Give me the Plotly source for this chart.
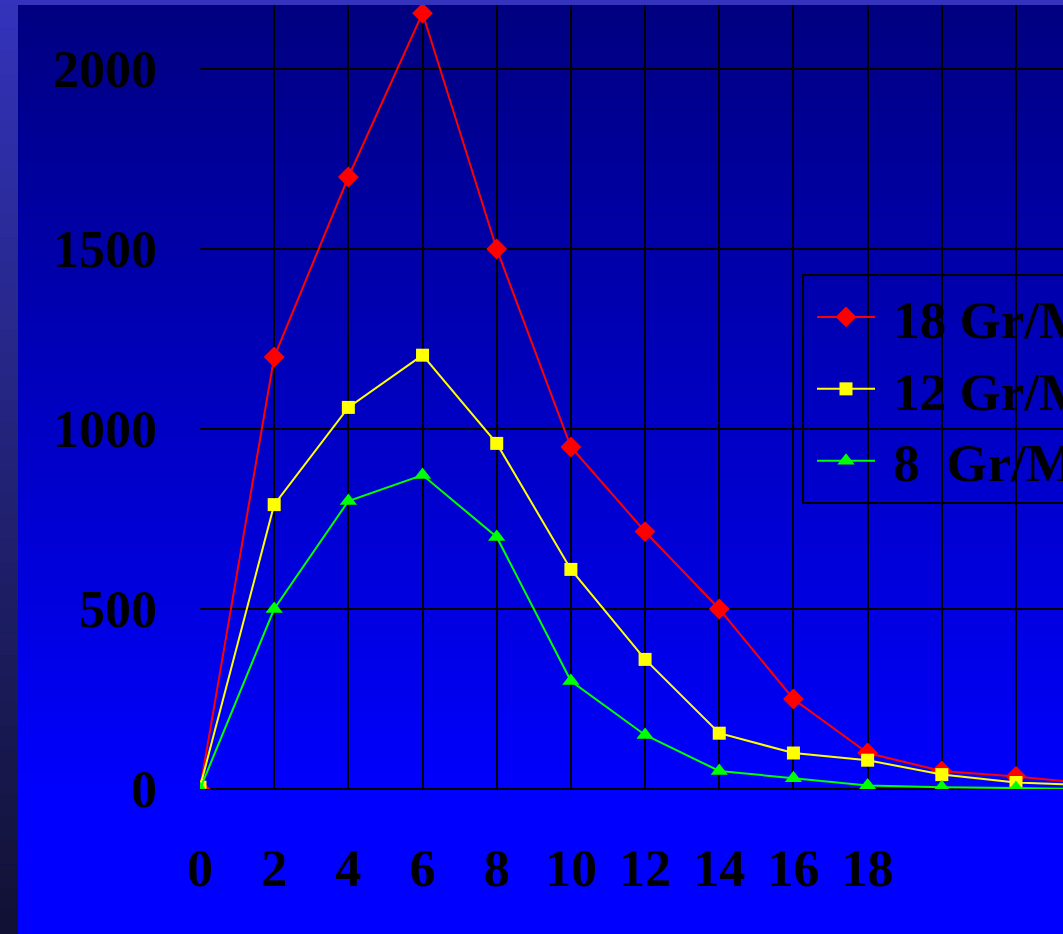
import plotly.graph_objects as go

# ---- data ----
hours = [0, 2, 4, 6, 8, 10, 12, 14, 16, 18, 20, 22, 24]
s18 = [0, 1200, 1700, 2155, 1500, 950, 715, 500, 250, 100, 50, 35, 15]
s12 = [5, 790, 1060, 1205, 960, 610, 360, 155, 100, 80, 40, 18, 10]
s8 = [0, 500, 800, 872, 700, 300, 150, 50, 30, 10, 5, 3, 0]
names = [" 18 Gr/M²", " 12 Gr/M²", " 8  Gr/M²"]
x_tickvals = [0, 2, 4, 6, 8, 10, 12, 14, 16, 18, 20, 22]
x_ticktext = ["0", "2", "4", "6", "8", "10", "12", "14", "16", "18", "", ""]
y_tickvals = [0, 500, 1000, 1500, 2000]

W, H = 1063, 934
L, R, T, B = 200, 0, 5, 145
pw, ph = W - L - R, H - T - B

def px2paper_x(px):
    return (px - L) / pw

def py2paper_y(py):
    return (H - B - py) / ph

shapes = []
# main gradient background (navy top -> bright blue bottom)
n = 90
g_top, g_bot = 5, 800
for i in range(n):
    y0 = g_top + (g_bot - g_top) * i / n
    y1 = g_top + (g_bot - g_top) * (i + 1) / n + 0.6
    b = int(round(128 + 127 * (i + 0.5) / n))
    shapes.append(dict(type="rect", xref="paper", yref="paper", layer="below",
                       x0=px2paper_x(18), x1=px2paper_x(W), y0=py2paper_y(y1), y1=py2paper_y(y0),
                       line=dict(width=0), fillcolor=f"rgb(0,0,{b})"))
shapes.append(dict(type="rect", xref="paper", yref="paper", layer="below",
                   x0=px2paper_x(18), x1=px2paper_x(W), y0=py2paper_y(H), y1=py2paper_y(g_bot),
                   line=dict(width=0), fillcolor="rgb(0,0,255)"))
# left strip gradient
m = 40
for i in range(m):
    y0 = 5 + (H - 5) * i / m
    y1 = 5 + (H - 5) * (i + 1) / m + 0.6
    f = (i + 0.5) / m
    r = int(round(51 + (17 - 51) * f))
    bb = int(round(187 + (51 - 187) * f))
    shapes.append(dict(type="rect", xref="paper", yref="paper", layer="below",
                       x0=px2paper_x(0), x1=px2paper_x(18), y0=py2paper_y(y1), y1=py2paper_y(y0),
                       line=dict(width=0), fillcolor=f"rgb({r},{r},{bb})"))
# top strip
shapes.append(dict(type="rect", xref="paper", yref="paper", layer="below",
                   x0=px2paper_x(0), x1=px2paper_x(W), y0=py2paper_y(5), y1=py2paper_y(0),
                   line=dict(width=0), fillcolor="rgb(51,51,187)"))

fig = go.Figure()
fig.add_trace(go.Scatter(x=hours, y=s18, name=names[0], mode="lines+markers",
                         line=dict(color="#ff0000", width=2),
                         marker=dict(symbol="diamond", size=16, color="#ff0000", line=dict(width=0))))
fig.add_trace(go.Scatter(x=hours, y=s12, name=names[1], mode="lines+markers",
                         line=dict(color="#ffff00", width=2),
                         marker=dict(symbol="square", size=13, color="#ffff00", line=dict(width=0))))
fig.add_trace(go.Scatter(x=hours, y=s8, name=names[2], mode="lines+markers",
                         line=dict(color="#00ff00", width=2),
                         marker=dict(symbol="triangle-up", size=15, color="#00ff00", line=dict(width=0))))

tick_font = dict(family="Liberation Serif, Times New Roman, serif", size=52, color="black", weight="bold")
legend_font = dict(tick_font, size=53)

fig.update_layout(
    width=W, height=H,
    margin=dict(l=L, r=R, t=T, b=B, pad=0, autoexpand=False),
    paper_bgcolor="rgb(0,0,255)",
    plot_bgcolor="rgba(0,0,0,0)",
    shapes=shapes,
    showlegend=True,
    legend=dict(x=px2paper_x(802), y=py2paper_y(274), xanchor="left", yanchor="top",
                bgcolor="rgba(0,0,0,0)", bordercolor="black", borderwidth=2,
                font=legend_font, itemwidth=58, indentation=8, tracegroupgap=0),
    xaxis=dict(range=[0, (W - L) / 37.09], tickvals=x_tickvals, ticktext=x_ticktext,
               showgrid=True, gridcolor="black", gridwidth=2, zeroline=False,
               showline=False, ticks="", tickfont=tick_font, ticklabelstandoff=44),
    yaxis=dict(range=[0, (H - B - T) / 0.36], tickvals=y_tickvals,
               showgrid=True, gridcolor="black", gridwidth=2, zeroline=True,
               zerolinecolor="black", zerolinewidth=2,
               showline=False, ticks="", tickfont=tick_font, ticklabelstandoff=42),
)

fig.write_html("out.html", config={"displayModeBar": False},
               post_script="document.body.style.margin='0';document.body.style.overflow='hidden';")
